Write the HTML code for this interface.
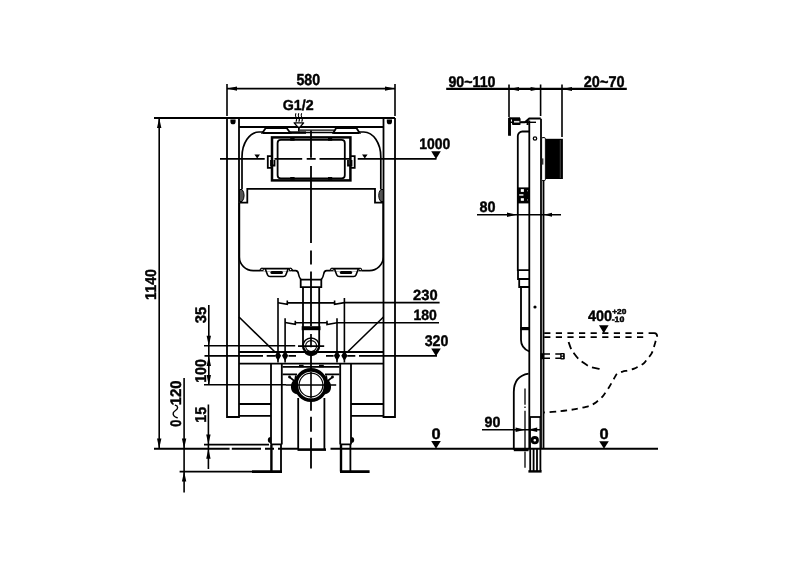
<!DOCTYPE html>
<html>
<head>
<meta charset="utf-8">
<title>Installation frame dimensions</title>
<style>
html,body{margin:0;padding:0;background:#fff;}
body{width:800px;height:566px;overflow:hidden;}
svg{display:block;}
text{font-family:"Liberation Sans",sans-serif;font-weight:bold;font-size:16px;fill:#000;stroke:#000;stroke-width:0.45px;stroke-linejoin:round;text-rendering:geometricPrecision;}
.m{stroke:#000;stroke-width:1.8;fill:none;}
.t{stroke:#000;stroke-width:1.6;fill:none;}
.k{stroke:#000;stroke-width:2.4;fill:none;}
.f{fill:#000;stroke:none;}
.d{stroke:#000;stroke-width:1.8;fill:none;stroke-dasharray:6.2 5.4;}
</style>
</head>
<body>
<svg width="800" height="566" viewBox="0 0 800 566">
<rect x="0" y="0" width="800" height="566" fill="#fff"/>
<!-- ================= FRONT VIEW ================= -->
<g id="front">
<!-- 580 dimension -->
<path class="t" d="M227 84V116M395 84V116M227 88.6H395"/>
<path class="f" d="M227 88.6l10-2.2v4.4zM395 88.6l-10-2.2v4.4z"/>

<!-- frame -->
<path class="m" d="M154 118H395M239 127H383.5"/>
<path class="m" d="M227 118V417H239V118M383.5 118V417H395V118"/>
<path class="f" d="M230.4 119.6h5.2v1.8a2.6 2.9 0 0 1-5.2 0zM386.8 119.6h5.2v1.8a2.6 2.9 0 0 1-5.2 0z"/>

<!-- cistern upper -->
<path class="m" d="M242 189V157A17 25 0 0 1 259 132H263M359 132H363.8A17 25 0 0 1 380.8 157V189" style="stroke-width:1.7"/>
<path class="m" d="M262.5 132.8L265.6 128.2H286.8L290.2 132.8ZM333.4 132.8L336 128.2H356.6L359.5 132.8Z"/>
<path class="k" d="M263 133H290M333.4 133H359" style="stroke-width:2.2"/>
<path class="t" d="M300 130.2H334" style="stroke-width:1.2"/>
<path class="t" d="M290 132.5H334" style="stroke-width:1.4"/>
<path class="k" d="M290 132.6H306" style="stroke-width:2.4"/>
<!-- inlet symbol -->
<path class="t" d="M296 113.3q-1.2 2.1 0 4.2t0 4.2M298.8 113.3q-1.2 2.1 0 4.2t0 4.2M301.7 113.3q-1.2 2.1 0 4.2t0 4.2" style="stroke-width:1.1"/>
<path d="M294.2 122.9H303.6L300 127.1H297.8Z" fill="#fff" stroke="#000" style="stroke-width:1.4" stroke-linejoin="round"/>
<path class="m" d="M298.9 127V131.5" style="stroke-width:1.8"/>
<!-- cistern lower -->
<path class="m" d="M240 202.7H247.3V188.8H375V202.7H383"/>
<path class="m" d="M239.4 203V257A13.8 13.6 0 0 0 253.2 270.6H295.6Q298 270.6 298.5 274T301 279.6M383.2 203V257A13.8 13.6 0 0 1 369.4 270.6H326.6Q324.2 270.6 323.7 274T321.2 279.6" style="stroke-width:1.6"/>
<path d="M239.5 189.5h2.6q2 2.5 2 6t-2 6h-2.6zM383.3 189.5h-2.6q-2 2.5-2 6t2 6h2.6z" fill="#555" stroke="#000" style="stroke-width:1"/>
<!-- brackets -->
<path d="M260.6 267.6H292V271.4H260.6ZM330.6 267.6H361.6V271.4H330.6Z" fill="#fff"/>
<path class="m" d="M260 270.4L261.6 268.6H290.8L292.4 270.4M265.2 268.8L267.6 275Q268.2 276.5 270 276.5H283.4Q285.2 276.5 285.8 275L288.2 268.8" style="stroke-width:1.6"/>
<rect class="f" x="270.4" y="271" width="12.6" height="3" rx="1.5"/>
<circle cx="262" cy="269.5" r="1.3" fill="#fff" stroke="#000" style="stroke-width:1.1"/><circle cx="290.6" cy="269.5" r="1.3" fill="#fff" stroke="#000" style="stroke-width:1.1"/>
<path class="m" d="M330.2 270.4L331.8 268.6H360L361.6 270.4M334.4 268.8L336.8 275Q337.4 276.5 339.2 276.5H353.6Q355.4 276.5 356 275L358.4 268.8" style="stroke-width:1.6"/>
<rect class="f" x="339.8" y="271" width="12.4" height="3" rx="1.5"/>
<circle cx="332" cy="269.5" r="1.3" fill="#fff" stroke="#000" style="stroke-width:1.1"/><circle cx="360.2" cy="269.5" r="1.3" fill="#fff" stroke="#000" style="stroke-width:1.1"/>
<!-- outlet collar + pipe -->
<path class="m" d="M300.7 279.6H321.3V287.2H300.7Z"/>
<path class="m" d="M303 287.2V346M319.2 287.2V346"/>
<path class="f" d="M301.7 326.2h18.8v4h-18.8z"/>

<!-- flush plate -->
<rect class="k" x="272" y="137.4" width="78.4" height="43" style="stroke-width:2.5"/>
<rect class="m" x="277.6" y="139.8" width="67.2" height="38.6" rx="3.2"/>
<path class="f" d="M290.2 138h4.4v2.7h-4.4zM328 138h4.2v2.7H328zM290.2 177h4.4v2.7h-4.4zM328 177h4.2v2.7H328z"/>
<path class="m" d="M272 156.2H267.8V167.8H272M271 160V165.5H274.5V160M350.5 156.2H354.7V167.8H350.5M351.5 160V165.5H348V160"/>

<!-- centre lines -->
<path class="m" d="M220 158.9H264.7M274.5 158.9H302.2M306.7 158.9H315.7M319.5 158.9H351M357.7 158.9H436.5"/>
<path class="f" d="M254.4 154.4h5.6l-2.8 4zM362 154.4h5.6l-2.8 4z"/>
<path class="m" d="M311 130.5V157.7M311 166V243M311 250.4V264.6M311 271.4V326M311 356V372M311 399V410.7M311 416.7V431.7M311 437.7V468.5"/>

<!-- 1000 -->
<path class="f" d="M431.2 151.2h9.6l-4.8 7.8z"/>

<!-- 230 / 180 dims -->
<path class="t" d="M278 298V362.6M344.4 298V362.6M285.1 318.2V362.6M337 318.2V362.6"/>
<path class="t" d="M278 302.7L287.3 304.2V300.6M287.3 302.9H334.6M334.6 300.6V304.3L344.4 302.6H439.6"/>
<path class="t" d="M285.1 322.5L295.3 324.4V320.8M295.3 322.8H327M327 320.8V324.5L337 322.7H439"/>
<path class="f" d="M431.2 348.4h9.6l-4.8 7.8z"/>

<!-- braces -->
<path class="m" d="M239 317L275 352M383.5 317L347.5 352" style="stroke-width:1.6"/>
<!-- rail -->
<path class="m" d="M239 352H383.5M239 363.6H383.5"/>
<!-- level lines -->
<path class="t" d="M204 345.7H295.2M298 346.1H324.2"/>
<path class="m" d="M204.5 355.8H263M266.7 355.8H275M288.5 355.8H296M326 355.8H333.6M347.3 355.8H355.3M359 355.8H437"/>
<path class="t" d="M204 384.8H286"/>
<!-- bolts -->
<path class="f" d="M278 350.4l3.1 5.3-3.1 5.3-3.1-5.3zM285.1 350.4l3.1 5.3-3.1 5.3-3.1-5.3zM337 350.4l3.1 5.3-3.1 5.3-3.1-5.3zM344.4 350.4l3.1 5.3-3.1 5.3-3.1-5.3z"/>

<!-- small circle -->
<path class="m" d="M303 346A8.1 8.1 0 0 1 319.2 346" style="stroke-width:1.5"/>
<path class="k" d="M303 345.5A8.1 8.3 0 0 0 319.2 345.5" style="stroke-width:2.4"/>
<path class="k" d="M305.6 352.6Q311.1 356.6 316.6 352.6" style="stroke-width:3"/>
<circle class="t" cx="311.1" cy="346.1" r="5.5" style="stroke-width:1.1"/>
<path class="m" d="M311 334.1V347.3" style="stroke-width:1.7"/>

<!-- legs -->
<path class="m" d="M271 363.6V444.4M281.8 363.6V444.4M340.2 363.6V444.4M351 363.6V444.4"/>
<path class="m" d="M271 444.4H281.8M340.2 444.4H351"/>
<path class="k" d="M271.4 444.4V471.6M341 444.4V471.6"/>
<path class="m" d="M281 444.4V471.6M350.4 444.4V471.6"/>
<path class="k" d="M252 471.6H282M340 471.6H369.6" style="stroke-width:2.6"/>
<path class="f" d="M270.8 437.1a3 3 0 0 0 0 6zM351.2 437.1a3 3 0 0 1 0 6z"/>
<!-- lower cross rails -->
<path class="m" d="M239 404H271M239 415.8H271M351 404H383.5M351 415.8H383.5"/>

<!-- support plate -->
<path class="m" d="M282.5 366.9H339.5M282.5 374.3H297M325 374.3H339.5"/>
<path class="f" d="M299 364.8h4.6v2.4H299zM319 364.8h4.8v2.4H319z"/>
<!-- big circle -->
<circle cx="311" cy="385" r="15.1" fill="#fff" stroke="#000" style="stroke-width:3.6"/>
<circle class="t" cx="311" cy="385" r="11.9" style="stroke-width:1.2"/>
<path class="f" d="M297.5 379.6L293.6 380.2Q290.6 383 291 388T296.4 394.2L299 392ZM324.5 379.6L328.4 380.2Q331.4 383 331 388T325.6 394.2L323 392Z"/>
<path class="k" d="M295 381.5L289.6 377.2M295.2 380L295.8 376M327 381.5L332.4 377.2M326.8 380L326.2 376" style="stroke-width:1.7" stroke-linecap="round"/>
<circle class="f" cx="289.5" cy="377" r="1.4"/><circle class="f" cx="332.5" cy="377" r="1.4"/>
<path class="t" d="M285.9 385H336.2M311 372V398"/>
<!-- drain -->
<path class="m" d="M298.2 398V449M324.4 398V449"/>
<path class="k" d="M297.5 449.6H326" style="stroke-width:2.6"/>

<!-- ground line -->
<path class="k" d="M154 448.7H229.6M231.8 448.7H261M265 448.7H274M278 448.7H298M330.5 448.7H658" style="stroke-width:2.1"/>
<path class="t" d="M204 444.6H269"/>
<path class="t" d="M179.6 471.6H252"/>
<path class="f" d="M431.2 441h9.6l-4.8 7.8z"/>

<!-- left dims -->
<path class="t" d="M159.2 118V448.6"/>
<path class="f" d="M159.2 118l-2.2 10h4.4zM159.2 448.6l-2.2-10h4.4z"/>
<path class="t" d="M184.1 378V492.4"/>
<path class="t" d="M177.2 417.7C174.4 417.2 172.6 415 173.3 412.8S177.9 410 177.6 407.6S176.4 405.5 175.4 405.3" style="stroke-width:1.4" stroke-linecap="round"/>
<path class="f" d="M184.1 448.6l-2.2-10h4.4zM184.1 471.6l-2.2 10h4.4z"/>
<path class="t" d="M208.8 305V385"/>
<path class="f" d="M208.8 345.7l-2.2-10h4.4zM208.8 356l-2.2 10h4.4zM208.8 385l-2.2-10h4.4z"/>
<path class="t" d="M208.4 404.5V469"/>
<path class="f" d="M208.4 444.6l-2.2-10h4.4zM208.4 448.8l-2.2 10h4.4z"/>
</g>

<!-- ================= SIDE VIEW ================= -->
<g id="side">
<!-- top dims -->
<path class="k" d="M446.2 88.9H626.8" style="stroke-width:2.1"/>
<path class="t" d="M509 84.4V117M540.6 84.4V116M562 84.4V137"/>
<path class="f" d="M509 89l10-2v4zM540.6 89l-10-2v4zM562 89l10-2v4z"/>

<!-- top bracket -->
<path class="k" d="M509.5 117.8V135.8" style="stroke-width:2.9"/>
<path class="t" d="M509 122.3H536" style="stroke-width:1.4"/>
<rect x="512" y="118" width="8.6" height="7" rx="1" fill="#000"/>
<rect x="514" y="120.9" width="5.4" height="1.7" fill="#ddd"/>
<path class="k" d="M509 118.4H520" style="stroke-width:2.2"/>
<path class="m" d="M520.6 122.3H525L529.3 118.5H540.8" style="stroke-width:2.1"/>
<path class="k" d="M527.6 120V125" style="stroke-width:2"/>
<!-- frame side -->
<path class="m" d="M529.3 120.5V449M541 118.8V449M543.5 137V449"/>
<!-- cistern side -->
<path class="m" d="M529.3 131.5H522.4A4.6 4.6 0 0 0 517.8 136.1V270.2H529.3"/>
<circle class="t" cx="535" cy="138.5" r="1.7" style="stroke-width:1.3"/>
<circle class="f" cx="535" cy="307" r="1.6"/>
<!-- plate + button -->
<rect class="t" x="541.6" y="137.6" width="3.8" height="43" rx="1.2" style="stroke-width:1;fill:#fff"/>
<rect x="541.8" y="158.4" width="1.6" height="6.2" fill="#333"/>
<rect class="f" x="546" y="138.8" width="16.9" height="40.2"/>
<path d="M560.3 140V178" stroke="#555" style="stroke-width:0.8"/>
<!-- fittings -->
<rect class="f" x="517" y="187.4" width="12.8" height="16"/>
<rect x="520.8" y="189.1" width="3.1" height="2.8" fill="#fff"/>
<rect x="519.2" y="194.2" width="4.2" height="1.5" fill="#eee"/>
<rect x="520.8" y="198.2" width="3.1" height="2.6" fill="#fff"/>
<rect x="527" y="190" width=".8" height="1.4" fill="#999"/><rect x="527" y="199.2" width=".8" height="1.4" fill="#999"/>
<!-- 80 dim -->
<path class="t" d="M477 214.7H561"/>
<path class="f" d="M517 214.7l-10-2.2v4.4zM544 214.7l8-2v4z"/>

<!-- outlet side -->
<path class="m" d="M518 270.2V279H519.2V287H521V340Q521 348 529.3 351.5M519.2 279H529.3M521 287H529.3"/>
<path class="f" d="M520.4 327h9v3.2h-9z"/>

<!-- trap -->
<path class="m" d="M528.6 373.6Q513.8 376 513.8 392V449.4"/>
<path class="k" d="M513.8 450H528.6"/>
<path class="t" d="M525 388.4V404.7M525 406.6V408M525 410.8V448.4M525 451.4V467.7" style="stroke-width:1.3"/>
<path class="m" d="M529.3 417H541"/>
<path class="t" d="M530.4 417V449M540 417V449" style="stroke-width:1"/>
<circle cx="534.8" cy="440.2" r="2.7" fill="#fff" stroke="#000" style="stroke-width:2.8"/>
<!-- foot -->
<path class="t" d="M530.2 449V471M533.6 449V471M537 449V471M540.4 449V471" style="stroke-width:1.8"/>
<path class="k" d="M528.4 471.4H541.6" style="stroke-width:2.4"/>

<!-- 90 dim -->
<path class="t" d="M482 429.7H540"/>
<path class="f" d="M525.2 429.7l-9.6-2.2v4.4zM527.6 429.7l9.6-2.2v4.4z"/>

<!-- toilet dashed -->
<path class="d" d="M544.2 333.2H644"/>
<path class="d" d="M648.6 333.2H654.4Q657.2 333.2 657.2 336.8" style="stroke-dasharray:none"/>
<path class="d" d="M544.2 337.2H643.5"/>
<path class="d" d="M657.2 336.5C656.9 337.4 656.0 340.0 655.4 342.0C654.8 344.0 654.2 346.4 653.6 348.3C653.0 350.2 652.5 351.8 651.5 353.6C650.5 355.4 648.7 357.3 647.4 358.9C646.1 360.5 645.4 362.1 643.9 363.3C642.4 364.5 640.2 365.4 638.6 366.3C637.0 367.2 636.0 367.9 634.2 368.6C632.4 369.3 629.9 369.9 628.0 370.4C626.1 370.9 624.5 371.1 622.7 371.6C620.9 372.1 618.7 372.4 617.4 373.4C616.1 374.4 615.7 375.7 614.7 377.4C613.7 379.1 612.2 381.8 611.2 383.6C610.2 385.4 609.6 386.4 608.6 388.0C607.6 389.6 606.2 391.7 605.0 393.3C603.8 394.9 603.0 396.2 601.5 397.7C600.0 399.2 597.8 401.0 596.2 402.2C594.6 403.4 593.5 404.0 591.8 404.8C590.1 405.6 588.3 406.2 586.0 406.8C583.7 407.4 580.7 408.1 578.0 408.6C575.3 409.1 573.3 409.5 570.0 410.0C566.7 410.5 562.3 411.0 558.0 411.4C553.7 411.8 546.3 412.3 544.0 412.5" style="stroke-dasharray:6.4 4.6;stroke-dashoffset:6.4"/>
<path class="d" d="M568.6 342.0C569.0 343.2 570.4 347.5 571.3 349.4C572.2 351.3 572.9 351.9 574.0 353.4C575.1 354.9 576.6 357.0 578.0 358.4C579.4 359.8 580.5 360.6 582.5 362.0C584.5 363.4 587.1 365.6 590.0 366.8C592.9 368.0 598.3 368.6 600.0 369.0" style="stroke-dasharray:7.5 4.5"/>
<!-- bolts -->
<path class="t" d="M543 353.9H550M543 358.3H550M555.3 353.9H561M555.3 358.3H561" style="stroke-width:1.5"/>
<rect class="f" x="560.2" y="352.9" width="4.6" height="6.5" rx="1.2"/>
<rect x="561.6" y="354.3" width="1.5" height="1.3" fill="#fff"/><rect x="561.6" y="356.8" width="1.5" height="1.3" fill="#fff"/>
<path class="k" d="M540.6 356.2H544.2" style="stroke-width:6"/>
<!-- markers -->
<path class="f" d="M599 325.2h9.6l-4.8 8z"/>
<path class="f" d="M599.2 441.2h9.6l-4.8 7.6z"/>
</g>

<g id="labels" opacity="0.999">
<text transform="translate(296.46 85.44) scale(0.8886 0.9975)">580</text>
<text transform="translate(282.72 109.71) scale(0.8895 0.9065)">G1/2</text>
<text transform="translate(419.32 148.85) scale(0.8724 0.9534)">1000</text>
<text transform="translate(413.09 299.64) scale(0.9182 0.9162)">230</text>
<text transform="translate(413.42 319.56) scale(0.8749 0.9269)">180</text>
<text transform="translate(424.67 346.23) scale(0.8881 0.9602)">320</text>
<text transform="translate(431.45 438.85) scale(1.0251 0.9534)">0</text>
<text transform="translate(155.85 299.90) rotate(-90) scale(0.8901 0.9710)">1140</text>
<text transform="translate(180.95 426.81) rotate(-90) scale(0.8016 0.9622)">0</text>
<text transform="translate(180.95 405.24) rotate(-90) scale(0.9308 0.9622)">120</text>
<text transform="translate(206.03 323.34) rotate(-90) scale(0.9244 0.9690)">35</text>
<text transform="translate(206.05 382.79) rotate(-90) scale(0.8829 0.9710)">100</text>
<text transform="translate(205.95 422.81) rotate(-90) scale(0.8994 0.9763)">15</text>
<text transform="translate(448.41 86.55) scale(0.8893 0.9710)">90~110</text>
<text transform="translate(583.80 86.65) scale(0.9056 0.9799)">20~70</text>
<text transform="translate(479.44 211.55) scale(0.9018 0.9446)">80</text>
<text transform="translate(484.61 426.56) scale(0.8923 0.9269)">90</text>
<text transform="translate(587.88 320.75) scale(0.9032 0.9446)">400</text>
<text transform="translate(612.25 313.93) scale(0.5153 0.4502)" style="stroke-width:1.1px">+20</text>
<text transform="translate(611.66 322.32) scale(0.5448 0.4855)" style="stroke-width:1.1px">-10</text>
<text transform="translate(599.45 438.95) scale(1.0251 0.9446)">0</text>
</g>
</svg>
</body>
</html>
